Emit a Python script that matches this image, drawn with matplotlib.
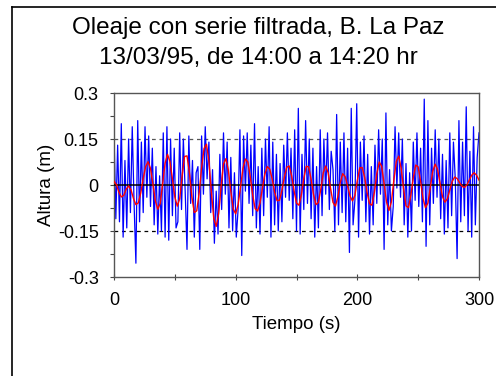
import matplotlib
matplotlib.use("Agg")
import matplotlib.pyplot as plt
from matplotlib.lines import Line2D
import numpy as np

plt.rcParams['font.family'] = ['Liberation Sans', 'DejaVu Sans']

# filtered series (red), one value every 2 s
t_red = np.arange(0, 301, 2)
red = [0.012, 0.001, -0.023, -0.039, -0.034, -0.014, -0.003, -0.016, -0.044, -0.064,
       -0.058, -0.026, 0.021, 0.060, 0.076, 0.054, 0.003, -0.052, -0.079, -0.060,
       0.005, 0.071, 0.100, 0.076, 0.020, -0.039, -0.069, -0.045, 0.030, 0.093,
       0.095, 0.040, -0.038, -0.090, -0.084, -0.026, 0.056, 0.119, 0.133, 0.079,
       -0.022, -0.109, -0.135, -0.093, -0.006, 0.068, 0.086, 0.048, -0.020, -0.078,
       -0.094, -0.064, -0.007, 0.054, 0.085, 0.075, 0.027, -0.033, -0.077, -0.085,
       -0.059, -0.010, 0.036, 0.060, 0.052, 0.020, -0.023, -0.051, -0.050, -0.018,
       0.026, 0.058, 0.062, 0.030, -0.019, -0.059, -0.066, -0.032, 0.021, 0.061,
       0.059, 0.019, -0.031, -0.064, -0.057, -0.013, 0.040, 0.062, 0.040, -0.011,
       -0.057, -0.069, -0.038, 0.009, 0.037, 0.027, -0.003, -0.036, -0.052, -0.034,
       0.015, 0.056, 0.057, 0.025, -0.024, -0.061, -0.066, -0.024, 0.037, 0.075,
       0.061, 0.004, -0.056, -0.083, -0.055, 0.015, 0.077, 0.094, 0.055, -0.012,
       -0.068, -0.074, -0.034, 0.024, 0.065, 0.059, 0.012, -0.044, -0.074, -0.059,
       -0.008, 0.045, 0.068, 0.050, 0.006, -0.038, -0.056, -0.045, -0.016, 0.012,
       0.026, 0.021, 0.008, -0.004, -0.008, 0.000, 0.016, 0.032, 0.040, 0.032,
       0.016]

# measured wave series (blue), one value every 1.5 s
t_blue = np.arange(0, 300.1, 1.5)
blue = [0.17, -0.11, 0.13, -0.12, 0.20, -0.17, 0.08, -0.14, 0.15, -0.09,
        0.19, -0.06, -0.255, 0.21, -0.12, 0.14, -0.09, 0.19, -0.04, 0.16,
        -0.07, 0.12, -0.13, 0.06, -0.16, 0.03, -0.15, 0.17, -0.17, 0.19,
        -0.18, 0.15, -0.10, 0.12, -0.14, -0.12, 0.17, -0.08, 0.15, -0.02,
        -0.21, 0.16, -0.06, 0.08, -0.17, 0.04, 0.06, -0.21, 0.16, -0.03,
        0.19, 0.02, 0.14, -0.09, 0.05, -0.19, -0.02, -0.16, 0.10, -0.08,
        0.17, -0.03, 0.14, -0.14, 0.09, -0.15, 0.04, -0.17, -0.08, 0.18,
        -0.23, 0.16, -0.02, 0.17, -0.06, 0.13, -0.10, 0.20, -0.14, 0.06,
        -0.16, 0.12, -0.10, 0.15, -0.04, 0.19, -0.17, 0.14, -0.13, 0.10,
        -0.15, 0.07, -0.12, 0.13, -0.04, 0.17, -0.05, 0.12, -0.11, 0.18,
        -0.15, 0.25, -0.16, 0.10, -0.08, 0.21, -0.06, 0.15, -0.11, 0.12,
        -0.17, 0.06, -0.14, 0.18, -0.10, 0.15, -0.03, 0.17, -0.08, 0.11,
        0.05, -0.15, 0.23, -0.13, 0.14, -0.09, 0.17, -0.12, 0.12, -0.22,
        0.25, -0.13, -0.05, 0.265, -0.17, 0.14, -0.05, 0.16, -0.12, 0.10,
        -0.16, 0.06, -0.13, 0.13, -0.06, 0.18, -0.03, 0.15, -0.21, 0.235,
        -0.13, 0.05, -0.15, -0.07, 0.19, -0.01, 0.17, -0.04, 0.15, -0.13,
        0.07, -0.17, 0.04, -0.15, 0.14, -0.05, 0.17, -0.07, 0.12, -0.12,
        0.28, -0.20, 0.21, -0.13, 0.12, -0.06, 0.18, -0.04, 0.15, -0.11,
        0.10, -0.16, 0.08, -0.14, 0.17, -0.10, 0.14, 0.02, -0.24, 0.21,
        -0.12, 0.14, -0.10, 0.255, -0.15, 0.11, -0.17, 0.19, -0.13, 0.09,
        0.17]

yticks = [-0.3, -0.15, 0, 0.15, 0.3]
ytick_labels = ['-0.3', '-0.15', '0', '0.15', '0.3']
xticks = [0, 100, 200, 300]

W, H = 496, 376
fig = plt.figure(figsize=(W / 100, H / 100), dpi=100)
fig.patch.set_facecolor('white')

# frame around the chart area
fig.add_artist(Line2D([12 / W, 12 / W], [1 - 7 / H, 0], color='black', lw=1.2))
fig.add_artist(Line2D([12 / W, 1], [1 - 7 / H, 1 - 7 / H], color='black', lw=1.2))

ax = fig.add_axes([114 / W, 1 - 277 / H, 365 / W, 184 / H])

ax.axhline(0.15, color='#555555', lw=0.9, ls=(0, (3, 3)), zorder=1)
ax.axhline(-0.15, color='black', lw=0.9, ls=(0, (3, 3)), zorder=1)
ax.plot(t_blue, blue, color='#0000ff', lw=0.9, zorder=2)
ax.axhline(0, color='black', lw=1.1, zorder=3)
ax.plot(t_red, red, color='#ff0000', lw=1.0, zorder=4)

ax.set_xlim(0, 300)
ax.set_ylim(-0.3, 0.3)
ax.set_xticks(xticks)
ax.set_xticks([50, 150, 250], minor=True)
ax.set_yticks(yticks)
ax.set_yticklabels(ytick_labels)
ax.set_yticks([-0.225, -0.075, 0.075, 0.225], minor=True)
ax.tick_params(axis='x', which='both', direction='inout', length=5, width=0.8,
               color='#444444', labelsize=13, pad=8)
ax.tick_params(axis='y', which='both', direction='out', length=3, width=0.8,
               color='#444444', labelsize=13, pad=8)
for s in ax.spines.values():
    s.set_color('#555555')
    s.set_linewidth(1.0)

ax.set_xlabel('Tiempo (s)', fontsize=13.5, labelpad=5)
ax.set_ylabel('Altura (m)', fontsize=13.5, labelpad=2)

fig.text(258 / W, 1 - 28 / H, 'Oleaje con serie filtrada, B. La Paz',
         ha='center', va='center', fontsize=17.5)
fig.text(258 / W, 1 - 58 / H, '13/03/95, de 14:00 a 14:20 hr',
         ha='center', va='center', fontsize=17.5)

fig.savefig('out.png', dpi=100)
